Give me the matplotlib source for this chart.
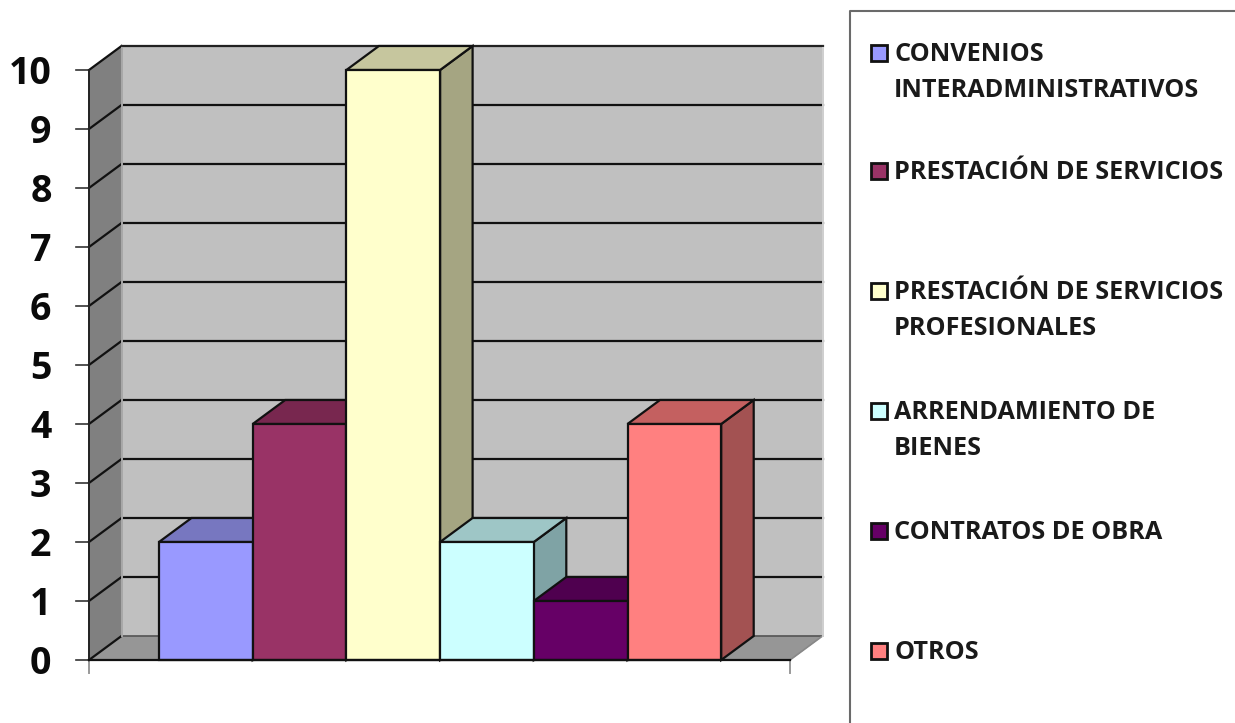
import matplotlib
matplotlib.use("Agg")
import matplotlib.pyplot as plt
from matplotlib.patches import Polygon, Rectangle
from matplotlib.lines import Line2D
from matplotlib.transforms import ScaledTranslation

# ---- data
categories = ["CONVENIOS\nINTERADMINISTRATIVOS", "PRESTACIÓN DE SERVICIOS",
              "PRESTACIÓN DE SERVICIOS\nPROFESIONALES", "ARRENDAMIENTO DE\nBIENES",
              "CONTRATOS DE OBRA", "OTROS"]
values = [2, 4, 10, 2, 1, 4]
front_colors = ["#9999FF", "#993366", "#FFFFCC", "#CCFFFF", "#660066", "#FF8080"]
top_colors = ["#7777C0", "#78274F", "#C6C69E", "#9EC6C6", "#4F004F", "#C46060"]
side_colors = ["#6F6FB8", "#6E2549", "#A5A582", "#7FA3A5", "#420042", "#A35252"]
yticks = list(range(0, 11))
legend_y_px = [53, 171, 291, 411, 531, 651]

W, H = 1235, 723
fig = plt.figure(figsize=(W / 100, H / 100), dpi=100, facecolor="white")
plt.rcParams["font.family"] = ["Open Sans", "DejaVu Sans"]

# axes cover the front plane of the 3-D box
L, R, B, T = 89, 790, 660, 70
ax = fig.add_axes([L / W, 1 - B / H, (R - L) / W, (B - T) / H])
unit_x = 93.7
x0 = (159 - L) / unit_x           # left of first bar, in category units
ax.set_xlim(-x0, (R - L) / unit_x - x0)
ax.set_ylim(0, 10)
ax.patch.set_visible(False)
for s in ax.spines.values():
    s.set_visible(False)
ax.set_xticks([])
ax.set_yticks(yticks)
ax.tick_params(axis="y", length=0, pad=27)
for lab in ax.get_yticklabels():
    lab.set_fontsize(27)
    lab.set_fontweight("bold")
    lab.set_color("#0A0A0A")
    lab.set_transform(lab.get_transform() + ScaledTranslation(0, 0.5 / 72, fig.dpi_scale_trans))

dx = 32.5 / unit_x
dy = 24 / ((B - T) / 10)
xa, xb = ax.get_xlim()
EDGE = "#111111"
lw = 1.6


def poly(pts, fc, z, ec=EDGE, lw=lw):
    ax.add_patch(Polygon(pts, closed=True, facecolor=fc, edgecolor=ec, linewidth=lw,
                         zorder=z, clip_on=False, joinstyle="miter"))


# back wall, side wall, floor
ymax = yticks[-1]
poly([(xa + dx, dy), (xb + dx, dy), (xb + dx, ymax + dy), (xa + dx, ymax + dy)], "#C0C0C0", 1, ec="#C0C0C0", lw=0.5)
poly([(xa, 0), (xa + dx, dy), (xa + dx, ymax + dy), (xa, ymax)], "#808080", 1.1, ec="#808080", lw=0.5)
poly([(xa, 0), (xb, 0), (xb + dx, dy), (xa + dx, dy)], "#969696", 1.1, ec="#969696", lw=0.5)

# gridlines on walls
for v in yticks:
    c = "#111111"
    if v > 0:
        ax.add_line(Line2D([xa + dx, xb + dx], [v + dy, v + dy], color=c, lw=1.6, zorder=1.5, clip_on=False))
    else:
        ax.add_line(Line2D([xa + dx, xb + dx], [dy, dy], color="#555555", lw=1.2, zorder=1.5, clip_on=False))
        ax.add_line(Line2D([xb, xb + dx], [0, dy], color="#888888", lw=1.2, zorder=1.5, clip_on=False))
    ax.add_line(Line2D([xa, xa + dx], [v, v + dy], color=c, lw=1.6, zorder=1.5, clip_on=False))
    ax.add_line(Line2D([xa - 13 / unit_x, xa], [v, v], color="#333333", lw=1.2, zorder=1.5, clip_on=False))
ax.add_line(Line2D([xa, xa], [0, ymax], color="#222222", lw=1.4, zorder=1.6, clip_on=False))
ax.add_line(Line2D([xa + dx, xa + dx], [dy, ymax + dy], color="#A8A8A8", lw=1.4, zorder=1.6, clip_on=False))
ax.add_line(Line2D([xb + dx, xb + dx], [dy, ymax + dy], color="#D0D0D0", lw=1.4, zorder=1.6, clip_on=False))
ax.add_line(Line2D([xa + dx, xb + dx], [ymax + dy, ymax + dy], color="#222222", lw=1.4, zorder=1.6, clip_on=False))

# x axis line and end ticks
ax.add_line(Line2D([xa, xb], [0, 0], color="#111111", lw=1.6, zorder=6, clip_on=False))
ax.add_line(Line2D([xa, xa], [0, -13 / 59], color="#999999", lw=1.4, zorder=1, clip_on=False))
ax.add_line(Line2D([xb, xb], [0, -13 / 59], color="#999999", lw=1.4, zorder=1, clip_on=False))

# bars, left to right so that later bars cover the earlier sides
for i, v in enumerate(values):
    z = 2 + i * 0.1
    poly([(i + 1, 0), (i + 1 + dx, dy), (i + 1 + dx, v + dy), (i + 1, v)], side_colors[i], z)
    poly([(i, v), (i + 1, v), (i + 1 + dx, v + dy), (i + dx, v + dy)], top_colors[i], z)
    poly([(i, 0), (i + 1, 0), (i + 1, v), (i, v)], front_colors[i], z + 0.01)

# legend frame (runs off the figure at the bottom)
fig.add_artist(Line2D([850 / W, 850 / W, 1235 / W], [0, 1 - 11 / H, 1 - 11 / H],
                      transform=fig.transFigure, color="#6A6A6A", lw=1.5))

for name, col, yp in zip(categories, front_colors, legend_y_px):
    fig.add_artist(Rectangle((871 / W, 1 - (yp + 8) / H), 16 / W, 16 / H, transform=fig.transFigure,
                             facecolor=col, edgecolor="#111111", linewidth=2))
    fig.text(894 / W, 1 - (yp - 11) / H, name, fontsize=18.2, fontweight="bold", color="#1A1A1A",
             va="top", ha="left", linespacing=1.57)

fig.savefig("out.png", dpi=100, facecolor="white")
